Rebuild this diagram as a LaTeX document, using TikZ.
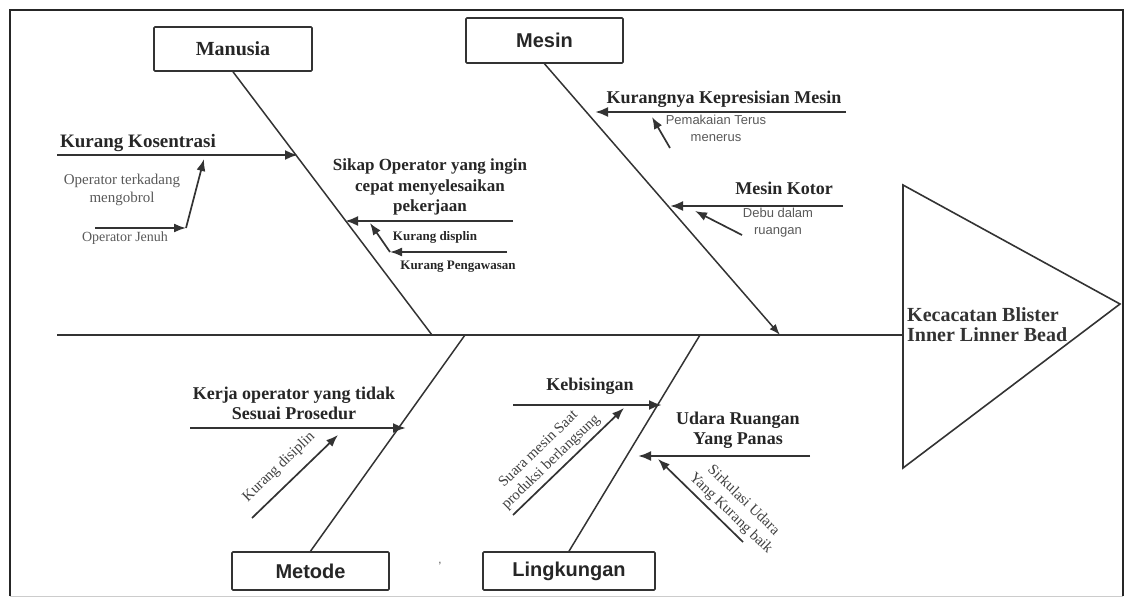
\documentclass[tikz,border=0pt]{standalone}
\usepackage{fontspec}
\setmainfont{Liberation Serif}
\setsansfont{Liberation Sans}
\usetikzlibrary{arrows.meta}

\tikzset{
  kategorie/.style={draw=black!80, line width=1.6pt, rounded corners=1pt, inner sep=0pt, text=black!85},
  ursache/.style={font=\bfseries\fontsize{18}{20}\selectfont, text=black!85, align=center, inner sep=0pt},
  klein/.style={font=\fontsize{15}{18}\selectfont, text=black!65, align=center, inner sep=0pt},
  kleinsans/.style={font=\sffamily\fontsize{13}{17}\selectfont, text=black!65, align=center, inner sep=0pt},
  tulang/.style={line width=1.5pt, draw=black!80},
  panah/.style={line width=2.4pt, draw=black!80, -{Latex[length=13pt,width=10pt]}},
  panahkecil/.style={line width=1.7pt, draw=black!80, -{Latex[length=12pt,width=9pt]}},
}

\begin{document}
\begin{tikzpicture}[x=1pt, y=-1pt]
    \useasboundingbox (0,0) rectangle (1125,597);

    % Rahmen
    \draw[black!85, line width=2.6pt] (10,596) -- (10,10) -- (1123,10) -- (1123,596);
    \draw[black!20, line width=0.6pt] (10,596) -- (1123,596);

    % Hauptgraete und Kopf
    \coordinate (ekor) at (57,335);
    \coordinate (kepala) at (903,335);
    \draw[tulang, line width=2pt] (ekor) -- (kepala);
    \draw[black!80, line width=1.6pt] (903,185) -- (1120,304) -- (903,468) -- cycle;
    \node[font=\bfseries\fontsize{20}{20}\selectfont, text=black!80, align=left, anchor=west, inner sep=0pt]
        (efek) at (907,325) {Kecacatan Blister\\Inner Linner Bead};

    % Kategorien
    \node[kategorie, minimum width=158pt, minimum height=44pt, font=\bfseries\fontsize{20}{22}\selectfont]
        (manusia) at (233,49) {Manusia};
    \node[kategorie, minimum width=157pt, minimum height=45pt, font=\sffamily\bfseries\fontsize{20}{22}\selectfont]
        (mesin) at (544.5,40.5) {Mesin};
    \node[kategorie, minimum width=157pt, minimum height=38pt, font=\sffamily\bfseries\fontsize{20}{22}\selectfont]
        (metode) at (310.5,571) {Metode};
    \node[kategorie, minimum width=172pt, minimum height=38pt, font=\sffamily\bfseries\fontsize{20}{22}\selectfont]
        (lingkungan) at (569,571) {Lingkungan};
    \node[font=\sffamily\fontsize{12}{12}\selectfont, text=black!70] (titik) at (440,566) {'};

    % Graeten zur Hauptgraete
    \coordinate (t1) at (432,335);
    \coordinate (t2) at (780,335);
    \coordinate (t3) at (465,335);
    \coordinate (t4) at (700,335);
    \draw[tulang] (manusia.south) -- (t1);
    \draw[tulang, -{Latex[length=11pt,width=8pt]}] (mesin.south) -- (t2);
    \draw[tulang] (t3) -- (metode.north);
    \draw[tulang] (t4) -- (lingkungan.north);

    % Ursachen Manusia
    \node[ursache, font=\bfseries\fontsize{19}{20}\selectfont] (kk) at (138,143) {Kurang Kosentrasi};
    \coordinate (kk0) at (57,155);
    \coordinate (kk1) at (298,155);
    \draw[panah] (kk0) -- (kk1);
    \node[klein] (ot) at (122,190) {Operator terkadang\\mengobrol};
    \node[klein, font=\fontsize{14}{16}\selectfont] (oj) at (125,238) {Operator Jenuh};
    \coordinate (oj0) at (95,228);
    \coordinate (oj1) at (186,228);
    \coordinate (ot1) at (204,159);
    \draw[panahkecil] (oj0) -- (oj1);
    \draw[panahkecil] (oj1) -- (ot1);

    \node[ursache, font=\bfseries\fontsize{17}{20.5}\selectfont] (sikap) at (430,187)
        {Sikap Operator yang ingin\\cepat menyelesaikan\\pekerjaan};
    \coordinate (so0) at (513,221);
    \coordinate (so1) at (345,221);
    \draw[panah] (so0) -- (so1);
    \node[ursache, font=\bfseries\fontsize{13}{15}\selectfont] (kd) at (435,237) {Kurang displin};
    \node[ursache, font=\bfseries\fontsize{13}{15}\selectfont] (kp) at (458,267) {Kurang Pengawasan};
    \coordinate (kp0) at (507,252);
    \coordinate (kp1) at (390,252);
    \coordinate (kd1) at (370,223);
    \draw[panahkecil] (kp0) -- (kp1);
    \draw[panahkecil] (kp1) -- (kd1);

    % Ursachen Mesin
    \node[ursache] (kkm) at (724,99) {Kurangnya Kepresisian Mesin};
    \coordinate (km0) at (846,112);
    \coordinate (km1) at (595,112);
    \draw[panah] (km0) -- (km1);
    \node[kleinsans] (ptm) at (716,128) {Pemakaian Terus\\menerus};
    \coordinate (pt0) at (670,148);
    \coordinate (pt1) at (652,117);
    \draw[panahkecil] (pt0) -- (pt1);

    \node[ursache] (mk) at (784,188) {Mesin Kotor};
    \coordinate (mk0) at (843,206);
    \coordinate (mk1) at (670,206);
    \draw[panah] (mk0) -- (mk1);
    \node[kleinsans] (dr) at (778,223) {Debu dalam\\ruangan};
    \coordinate (dr0) at (742,235);
    \coordinate (dr1) at (695,211);
    \draw[panahkecil] (dr0) -- (dr1);

    % Ursachen Metode
    \node[ursache, font=\bfseries\fontsize{18}{20}\selectfont] (kerja) at (294,403)
        {Kerja operator yang tidak\\Sesuai Prosedur};
    \coordinate (ko0) at (190,428);
    \coordinate (ko1) at (406,428);
    \draw[panah] (ko0) -- (ko1);
    \node[klein, rotate=44, text=black!75] (kds) at (279,467) {Kurang disiplin};
    \coordinate (kds0) at (252,518);
    \coordinate (kds1) at (338,435);
    \draw[panahkecil] (kds0) -- (kds1);

    % Ursachen Lingkungan
    \node[ursache] (kb) at (590,386) {Kebisingan};
    \coordinate (kb0) at (513,405);
    \coordinate (kb1) at (662,405);
    \draw[panah] (kb0) -- (kb1);
    \node[klein, rotate=44, text=black!75] (sm) at (545,456) {Suara mesin Saat\\produksi berlangsung};
    \coordinate (sm0) at (513,515);
    \coordinate (sm1) at (624,408);
    \draw[panahkecil] (sm0) -- (sm1);

    \node[ursache] (ur) at (738,430) {Udara Ruangan\\Yang Panas};
    \coordinate (ur0) at (810,456);
    \coordinate (ur1) at (638,456);
    \draw[panah] (ur0) -- (ur1);
    \node[klein, rotate=-44, text=black!75] (su) at (737,507) {Sirkulasi Udara\\Yang Kurang baik};
    \coordinate (su0) at (743,542);
    \coordinate (su1) at (658,459);
    \draw[panahkecil] (su0) -- (su1);
\end{tikzpicture}
\end{document}
